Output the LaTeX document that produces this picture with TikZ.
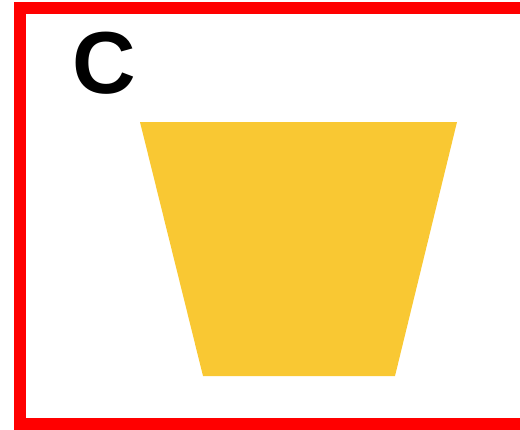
\documentclass[tikz,border=0pt]{standalone}
\usepackage{fontspec}
\setmainfont{Liberation Sans}
\usepackage{xcolor}
\usetikzlibrary{positioning}
\definecolor{frame}{HTML}{FF0000}
\definecolor{bucket}{HTML}{F9C833}

\tikzset{
  panelframe/.style={draw=frame, line width=12pt},
  panellabel/.style={font=\bfseries\fontsize{88}{88}\selectfont, inner sep=0pt},
  bucketfill/.style={fill=bucket, draw=none}
}

\begin{document}
\begin{tikzpicture}[x=1pt, y=-1pt]
\useasboundingbox (0,0) rectangle (520,429);
% Panel frame (open to the right)
\draw[panelframe] (540,424) -- (20,424) -- (20,8) -- (540,8);
% Panel letter
\node[panellabel] (lbl) at (104,63) {C};
% Trapezoid
\coordinate (tl) at (140,122);
\coordinate (tr) at (457,122);
\coordinate (br) at (395,376);
\coordinate (bl) at (203,376);
\fill[bucketfill] (tl) -- (tr) -- (br) -- (bl) -- cycle;
\end{tikzpicture}
\end{document}
